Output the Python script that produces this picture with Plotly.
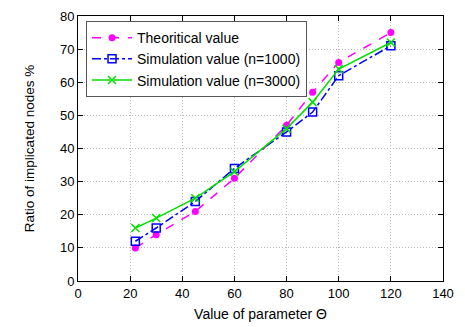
import plotly.graph_objects as go

# parameter theta values
theta = [22, 30, 45, 60, 80, 90, 100, 120]
theory = [10, 14, 21, 31, 47, 57, 66, 75]
sim1000 = [12, 16, 24, 34, 45, 51, 62, 71]
sim3000 = [16, 19, 25, 33, 46, 54, 64, 72]

xticks = [0, 20, 40, 60, 80, 100, 120, 140]
yticks = [0, 10, 20, 30, 40, 50, 60, 70, 80]

fig = go.Figure()
fig.add_trace(go.Scatter(x=theta, y=theory, name="Theoritical value", mode="lines+markers",
                         line=dict(color="#ff00ff", width=1.5, dash="dash"),
                         marker=dict(symbol="circle", size=7, color="#ff00ff")))
fig.add_trace(go.Scatter(x=theta, y=sim1000, name="Simulation value (n=1000)", mode="lines+markers",
                         line=dict(color="#0000ff", width=1.5, dash="dashdot"),
                         marker=dict(symbol="square-open", size=8, color="#0000ff", line=dict(width=1.5))))
fig.add_trace(go.Scatter(x=theta, y=sim3000, name="Simulation value (n=3000)", mode="lines+markers",
                         line=dict(color="#00e000", width=1.5),
                         marker=dict(symbol="x-thin-open", size=8, color="#00e000", line=dict(width=1.5, color="#00e000"))))

axis_common = dict(showline=True, linecolor="black", linewidth=1, mirror="ticks",
                   ticks="inside", ticklen=5, tickcolor="black", automargin=False,
                   showgrid=True, gridcolor="#bbbbbb", griddash="1px,2px", gridwidth=1,
                   zeroline=False, tickfont=dict(size=13, color="black"))

# page body has an 8px margin top/left, so the figure is 8px smaller
fig.update_layout(
    width=457, height=319,
    margin=dict(l=70, r=22, t=8, b=46),
    paper_bgcolor="white", plot_bgcolor="white",
    font=dict(family="Liberation Sans, Arial, sans-serif", size=13, color="black"),
    xaxis=dict(range=[0, 140], tickvals=xticks,
               title=dict(text="Value of parameter Θ", standoff=9, font=dict(size=14)), **axis_common),
    yaxis=dict(range=[0, 80], tickvals=yticks,
               title=dict(text="Ratio of implicated nodes %", standoff=22, font=dict(size=13.5)), **axis_common),
    legend=dict(x=0.022, y=0.981, xanchor="left", yanchor="top",
                bgcolor="white", bordercolor="#555555", borderwidth=1,
                font=dict(size=14), tracegroupgap=0, itemwidth=40),
)

fig.write_html("out.html")
